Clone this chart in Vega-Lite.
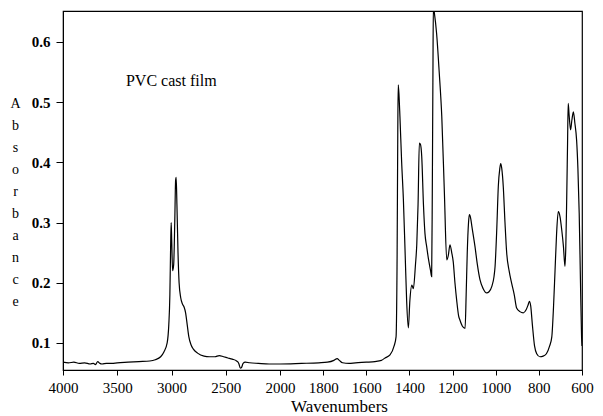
{
  "$schema": "https://vega.github.io/schema/vega-lite/v6.json",
  "width": 519,
  "height": 359,
  "autosize": {"type": "none"},
  "padding": {"left": 63, "top": 11, "right": 21, "bottom": 46},
  "background": "white",
  "config": {
    "view": {"stroke": "black", "strokeWidth": 1.2},
    "axis": {"grid": false, "domainColor": "black", "tickColor": "black", "labelColor": "black", "titleColor": "black", "labelFont": "Liberation Serif", "titleFont": "Liberation Serif"}
  },
  "datasets": {
    "spectrum": [
      {"wn":4000,"a":0.068},{"wn":3950,"a":0.067},{"wn":3900,"a":0.068},{"wn":3850,"a":0.066},{"wn":3800,"a":0.067},{"wn":3750,"a":0.065},{"wn":3720,"a":0.066},{"wn":3700,"a":0.064},{"wn":3680,"a":0.069},{"wn":3660,"a":0.066},{"wn":3640,"a":0.065},{"wn":3600,"a":0.066},{"wn":3550,"a":0.066},{"wn":3500,"a":0.067},{"wn":3400,"a":0.068},{"wn":3300,"a":0.069},{"wn":3200,"a":0.070},{"wn":3150,"a":0.072},{"wn":3100,"a":0.077},{"wn":3070,"a":0.085},{"wn":3040,"a":0.10},{"wn":3025,"a":0.13},{"wn":3015,"a":0.18},{"wn":3008,"a":0.26},{"wn":3003,"a":0.30},{"wn":2998,"a":0.27},{"wn":2990,"a":0.22},{"wn":2980,"a":0.23},{"wn":2970,"a":0.30},{"wn":2962,"a":0.37},{"wn":2957,"a":0.375},{"wn":2950,"a":0.33},{"wn":2940,"a":0.25},{"wn":2930,"a":0.20},{"wn":2915,"a":0.175},{"wn":2900,"a":0.165},{"wn":2885,"a":0.16},{"wn":2870,"a":0.15},{"wn":2855,"a":0.13},{"wn":2840,"a":0.11},{"wn":2820,"a":0.097},{"wn":2800,"a":0.09},{"wn":2760,"a":0.083},{"wn":2700,"a":0.078},{"wn":2650,"a":0.077},{"wn":2600,"a":0.077},{"wn":2560,"a":0.079},{"wn":2520,"a":0.077},{"wn":2480,"a":0.075},{"wn":2440,"a":0.073},{"wn":2400,"a":0.070},{"wn":2380,"a":0.066},{"wn":2365,"a":0.058},{"wn":2355,"a":0.059},{"wn":2340,"a":0.066},{"wn":2320,"a":0.068},{"wn":2280,"a":0.067},{"wn":2200,"a":0.066},{"wn":2100,"a":0.065},{"wn":2000,"a":0.065},{"wn":1900,"a":0.066},{"wn":1820,"a":0.067},{"wn":1780,"a":0.068},{"wn":1750,"a":0.071},{"wn":1735,"a":0.074},{"wn":1725,"a":0.071},{"wn":1710,"a":0.067},{"wn":1680,"a":0.066},{"wn":1650,"a":0.067},{"wn":1600,"a":0.068},{"wn":1560,"a":0.069},{"wn":1530,"a":0.071},{"wn":1513,"a":0.075},{"wn":1490,"a":0.08},{"wn":1471,"a":0.095},{"wn":1462,"a":0.11},{"wn":1457,"a":0.25},{"wn":1454,"a":0.45},{"wn":1452,"a":0.529},{"wn":1448,"a":0.51},{"wn":1444,"a":0.476},{"wn":1436,"a":0.40},{"wn":1428,"a":0.338},{"wn":1420,"a":0.25},{"wn":1413,"a":0.171},{"wn":1405,"a":0.125},{"wn":1398,"a":0.17},{"wn":1389,"a":0.196},{"wn":1382,"a":0.19},{"wn":1372,"a":0.23},{"wn":1366,"a":0.263},{"wn":1360,"a":0.33},{"wn":1354,"a":0.432},{"wn":1349,"a":0.43},{"wn":1343,"a":0.41},{"wn":1335,"a":0.33},{"wn":1328,"a":0.282},{"wn":1320,"a":0.26},{"wn":1312,"a":0.24},{"wn":1302,"a":0.22},{"wn":1297,"a":0.21},{"wn":1294,"a":0.35},{"wn":1291,"a":0.55},{"wn":1289,"a":0.66},{"wn":1285,"a":0.65},{"wn":1274,"a":0.614},{"wn":1262,"a":0.55},{"wn":1250,"a":0.476},{"wn":1238,"a":0.35},{"wn":1227,"a":0.238},{"wn":1220,"a":0.245},{"wn":1212,"a":0.263},{"wn":1204,"a":0.25},{"wn":1197,"a":0.235},{"wn":1189,"a":0.20},{"wn":1181,"a":0.171},{"wn":1172,"a":0.145},{"wn":1166,"a":0.138},{"wn":1155,"a":0.128},{"wn":1142,"a":0.124},{"wn":1137,"a":0.18},{"wn":1132,"a":0.249},{"wn":1126,"a":0.30},{"wn":1122,"a":0.313},{"wn":1115,"a":0.305},{"wn":1111,"a":0.295},{"wn":1096,"a":0.26},{"wn":1085,"a":0.23},{"wn":1073,"a":0.205},{"wn":1058,"a":0.19},{"wn":1042,"a":0.183},{"wn":1031,"a":0.185},{"wn":1018,"a":0.194},{"wn":1008,"a":0.21},{"wn":1003,"a":0.227},{"wn":995,"a":0.29},{"wn":988,"a":0.36},{"wn":981,"a":0.39},{"wn":977,"a":0.398},{"wn":972,"a":0.39},{"wn":965,"a":0.36},{"wn":957,"a":0.30},{"wn":949,"a":0.249},{"wn":938,"a":0.22},{"wn":926,"a":0.199},{"wn":914,"a":0.18},{"wn":903,"a":0.158},{"wn":888,"a":0.152},{"wn":872,"a":0.15},{"wn":859,"a":0.155},{"wn":850,"a":0.163},{"wn":844,"a":0.169},{"wn":838,"a":0.162},{"wn":830,"a":0.13},{"wn":820,"a":0.095},{"wn":810,"a":0.082},{"wn":795,"a":0.077},{"wn":780,"a":0.078},{"wn":765,"a":0.082},{"wn":750,"a":0.095},{"wn":740,"a":0.11},{"wn":732,"a":0.16},{"wn":725,"a":0.22},{"wn":718,"a":0.28},{"wn":710,"a":0.318},{"wn":702,"a":0.31},{"wn":694,"a":0.288},{"wn":686,"a":0.26},{"wn":679,"a":0.227},{"wn":675,"a":0.26},{"wn":671,"a":0.338},{"wn":667,"a":0.43},{"wn":664,"a":0.498},{"wn":660,"a":0.48},{"wn":653,"a":0.454},{"wn":647,"a":0.47},{"wn":640,"a":0.484},{"wn":633,"a":0.465},{"wn":625,"a":0.437},{"wn":619,"a":0.39},{"wn":613,"a":0.316},{"wn":607,"a":0.2},{"wn":602,"a":0.11},{"wn":600,"a":0.095}
    ],
    "notes": [{"wn": 3420, "a": 0.536, "label": "PVC cast film"}]
  },
  "layer": [
    {
      "data": {"name": "spectrum"},
      "mark": {"type": "line", "color": "black", "strokeWidth": 1.2, "clip": true, "interpolate": "monotone"},
      "encoding": {
        "x": {
          "field": "wn", "type": "quantitative",
          "scale": {"domain": [4000, 2000, 600], "range": [0, 217, 519], "nice": false, "zero": false},
          "axis": {
            "values": [4000, 3500, 3000, 2500, 2000, 1800, 1600, 1400, 1200, 1000, 800, 600],
            "format": "d", "title": "Wavenumbers", "labelFontSize": 15, "titleFontSize": 17, "titleFontWeight": "normal",
            "tickSize": 5, "labelPadding": 5, "titleX": 276, "titleY": 41, "titleAlign": "center", "titleBaseline": "alphabetic",
            "labelOverlap": false, "labelFlush": false
          }
        },
        "y": {
          "field": "a", "type": "quantitative",
          "scale": {"domain": [0.055, 0.6515], "nice": false, "zero": false},
          "axis": {
            "values": [0.1, 0.2, 0.3, 0.4, 0.5, 0.6], "format": ".1f",
            "labelFontSize": 15, "labelFontWeight": "bold", "tickSize": 7, "labelPadding": 6,
            "title": ["A", "b", "s", "o", "r", "b", "a", "n", "c", "e"],
            "titleAngle": 0, "titleFontSize": 14, "titleFontWeight": "normal", "titleLineHeight": 22,
            "titleX": -48, "titleY": 92, "titleAlign": "center", "titleBaseline": "middle"
          }
        }
      }
    },
    {
      "data": {"name": "notes"},
      "mark": {"type": "text", "font": "Liberation Serif", "fontSize": 16, "align": "left", "baseline": "middle", "color": "black"},
      "encoding": {
        "x": {"field": "wn", "type": "quantitative"},
        "y": {"field": "a", "type": "quantitative"},
        "text": {"field": "label"}
      }
    }
  ]
}
